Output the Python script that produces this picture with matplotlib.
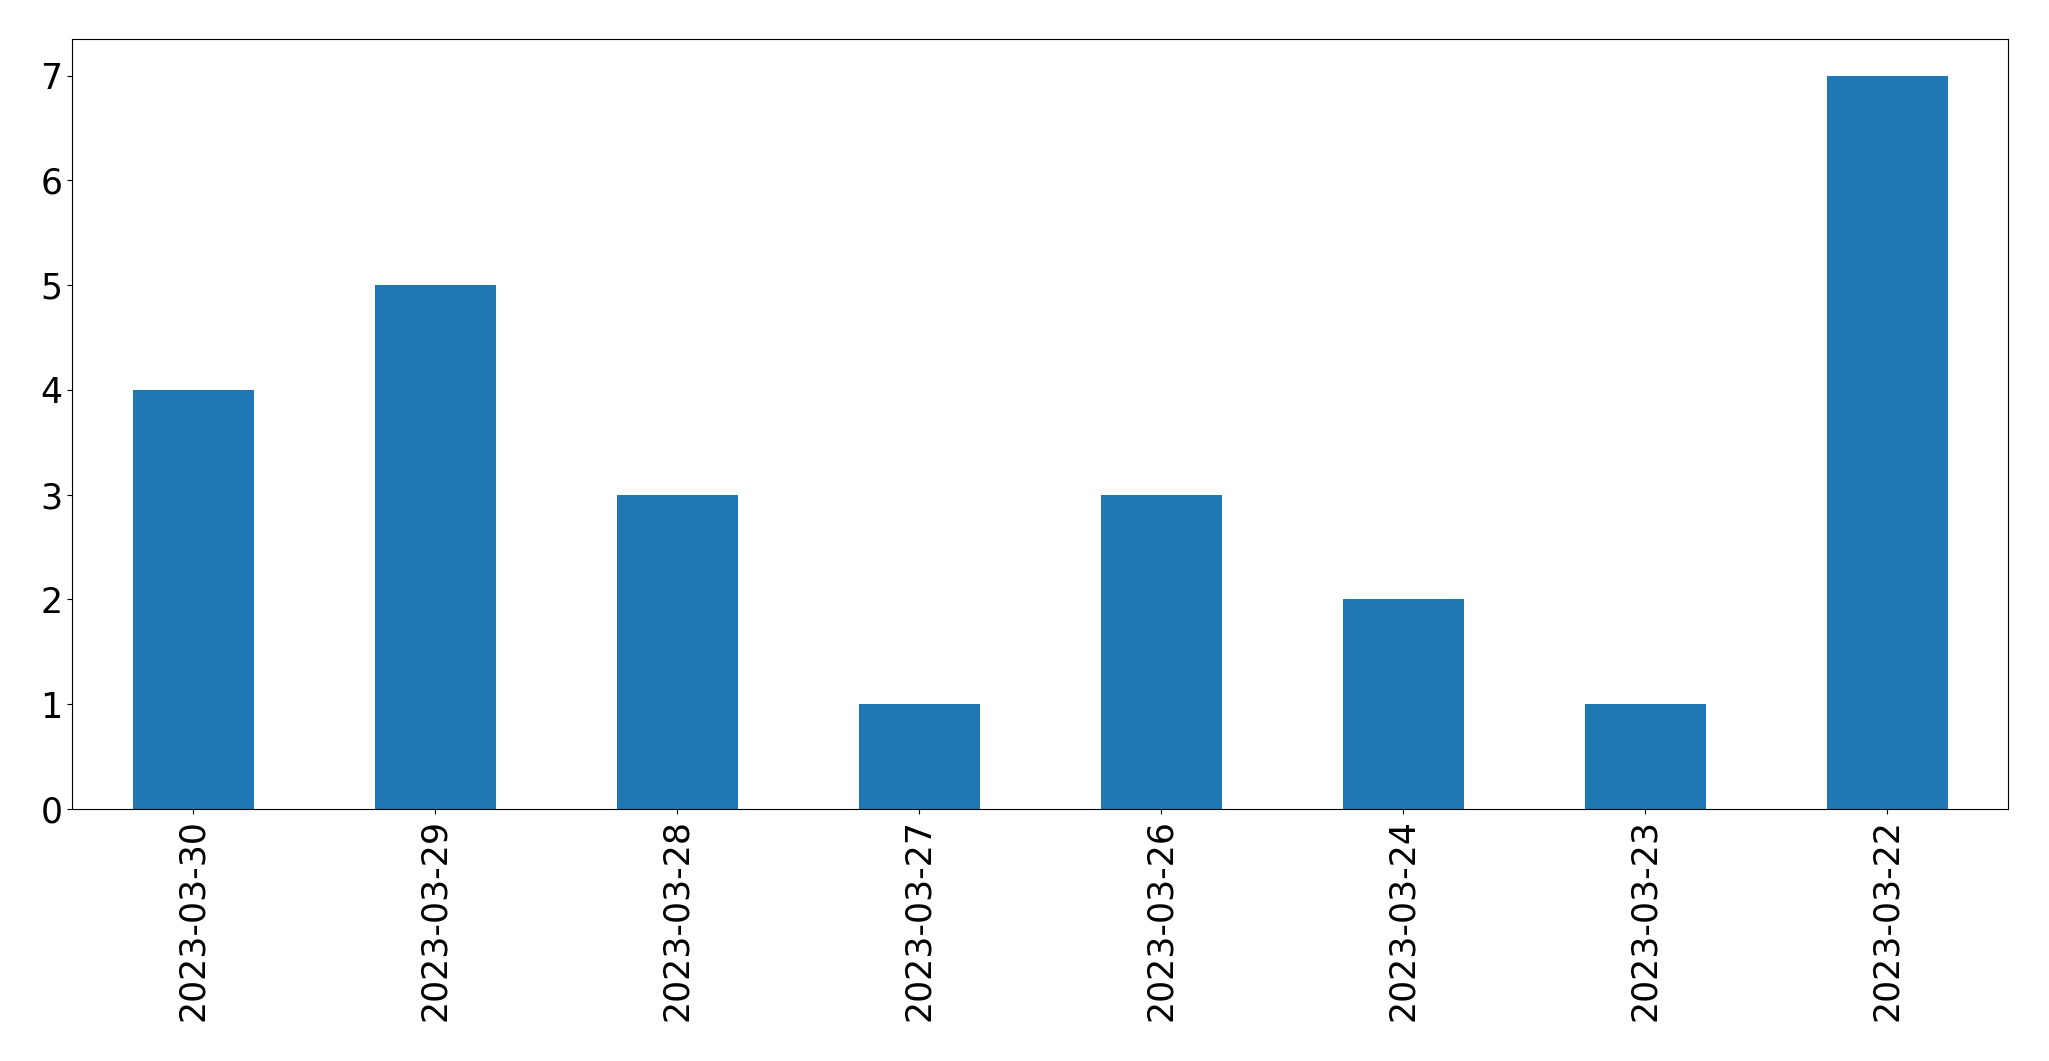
import numpy as np
import matplotlib.pyplot as plt

# daily counts, in the order they appear on the chart
dates = ['2023-03-30', '2023-03-29', '2023-03-28', '2023-03-27',
         '2023-03-26', '2023-03-24', '2023-03-23', '2023-03-22']
counts = [4, 5, 3, 1, 3, 2, 1, 7]

fig = plt.figure(figsize=(20.49, 10.61), dpi=100)
ax = fig.add_axes([72 / 2049, 1 - 809 / 1061, (2008 - 72) / 2049, (809 - 39) / 1061])

x = np.arange(len(dates))
ax.bar(x, counts, width=0.5, color='#1f77b4')
ax.set_xlim(-0.5, len(dates) - 0.5)
ax.set_ylim(0, 7.35)
ax.set_xticks(x)
ax.set_xticklabels(dates, rotation=90)
ax.tick_params(axis='both', labelsize=25)

fig.savefig('out.png', dpi=100)
